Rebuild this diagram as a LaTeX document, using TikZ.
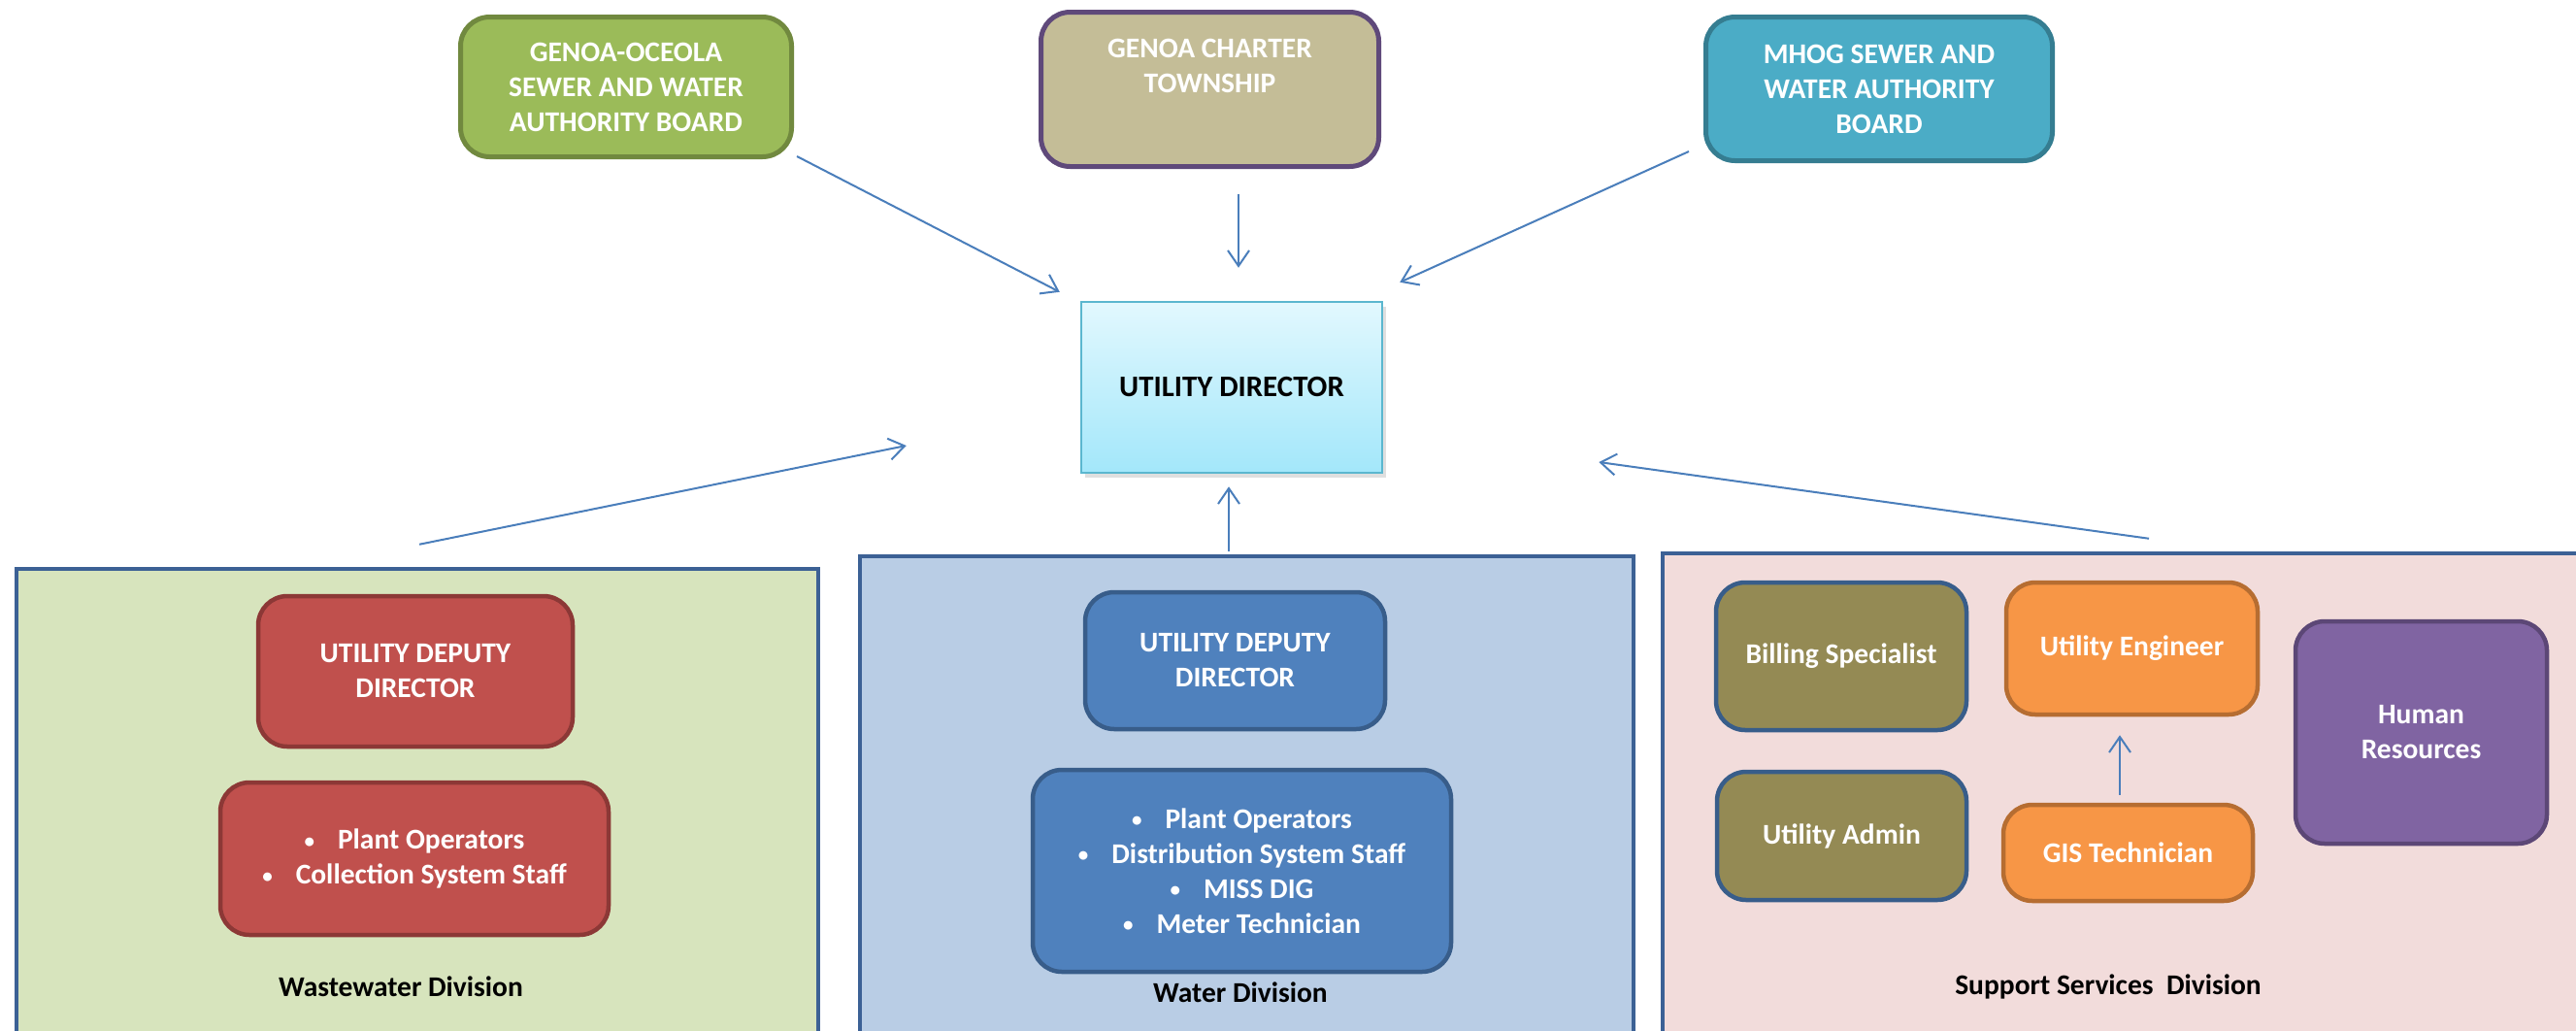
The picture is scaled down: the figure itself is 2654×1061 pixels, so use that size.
\documentclass[tikz,border=0pt]{standalone}
\usepackage{fontspec}
\setmainfont{Carlito}
\usetikzlibrary{arrows.meta,calc,shadows}
\definecolor{grfill}{HTML}{9BBB59}\definecolor{grline}{HTML}{71893F}
\definecolor{tnfill}{HTML}{C4BD97}\definecolor{tnline}{HTML}{5F497A}
\definecolor{mhfill}{HTML}{4BACC6}\definecolor{mhline}{HTML}{357D91}
\definecolor{dirtop}{HTML}{E2F8FE}\definecolor{dirbot}{HTML}{A3E7FA}\definecolor{dirline}{HTML}{5BB7CF}
\definecolor{arr}{HTML}{4A7EBB}
\definecolor{divline}{HTML}{3C6195}
\definecolor{wwfill}{HTML}{D7E4BD}\definecolor{wafill}{HTML}{B9CDE5}\definecolor{ssfill}{HTML}{F2DCDB}
\definecolor{rdfill}{HTML}{C0504D}\definecolor{rdline}{HTML}{8C3836}
\definecolor{blfill}{HTML}{4F81BD}\definecolor{blline}{HTML}{385D8A}
\definecolor{olfill}{HTML}{948A54}
\definecolor{orfill}{HTML}{F79646}\definecolor{orline}{HTML}{B66D31}
\definecolor{pufill}{HTML}{8064A2}\definecolor{puline}{HTML}{5C4776}
\newcommand{\bul}{\raisebox{1.5pt}{\fontsize{21}{21}\selectfont •}\hspace{24pt}}
\begin{document}
\begin{tikzpicture}[x=1pt,y=-1pt,
  wtxt/.style={text=white,font=\bfseries\fontsize{29.5}{36}\selectfont,align=center},
  topbox/.style={wtxt,draw,rounded corners=30pt,line width=5pt,inner sep=0pt},
  inbox/.style={wtxt,draw,rounded corners=30pt,line width=4.5pt,inner sep=0pt},
  divbox/.style={draw=divline,line width=4.5pt,inner sep=0pt},
  divlabel/.style={text=black,font=\bfseries\fontsize{29.5}{34}\selectfont,anchor=base},
  conn/.style={draw=arr,line width=2pt,-{Straight Barb[length=16pt,width=22pt,line width=2pt]}}]
\useasboundingbox (0,0) rectangle (2654,1061);
\fill[white] (0,0) rectangle (2654,1061);
\begin{scope}
\clip (0,0) rectangle (2654,1061);
% top boxes
\node[topbox,fill=grfill,draw=grline,minimum width=341pt,minimum height=144pt] (gos) at (645,89.5) {GENOA-OCEOLA\\SEWER AND WATER\\AUTHORITY BOARD};
\node[topbox,fill=tnfill,draw=tnline,minimum width=348pt,minimum height=159pt] (gct) at (1246.5,92) {};
\node[wtxt] (gcttext) at (1246.5,68) {GENOA CHARTER\\TOWNSHIP};
\node[topbox,fill=mhfill,draw=mhline,minimum width=357pt,minimum height=148pt] (mhog) at (1936,91.5) {MHOG SEWER AND\\WATER AUTHORITY\\BOARD};
% director
\node[draw=dirline,line width=2.5pt,top color=dirtop,bottom color=dirbot,minimum width=310pt,minimum height=176pt,
  font=\bfseries\fontsize{30.8}{36}\selectfont,
  drop shadow={shadow xshift=4pt,shadow yshift=-5pt,opacity=.25}] (dir) at (1269,399) {UTILITY DIRECTOR};
% divisions
\node[divbox,fill=wwfill,minimum width=826pt,minimum height=514pt] (ww) at (430,843) {};
\node[divbox,fill=wafill,minimum width=797pt,minimum height=527pt] (wa) at (1284.5,836.5) {};
\node[divbox,fill=ssfill,minimum width=987pt,minimum height=530pt] (ss) at (2206.5,835) {};
% wastewater
\node[inbox,fill=rdfill,draw=rdline,minimum width=324pt,minimum height=155pt] (wwdep) at (428,691.5) {UTILITY DEPUTY\\DIRECTOR};
\node[inbox,fill=rdfill,draw=rdline,minimum width=400pt,minimum height=157pt] (wwstaff) at (427,884.5) {\bul Plant Operators\\\bul Collection System Staff};
\node[divlabel] (wwlab) at (413,1026) {Wastewater Division};
% water
\node[inbox,fill=blfill,draw=blline,minimum width=309pt,minimum height=141pt] (wadep) at (1272.5,680.5) {UTILITY DEPUTY\\DIRECTOR};
\node[inbox,fill=blfill,draw=blline,minimum width=431pt,minimum height=208pt] (wastaff) at (1279.5,897) {\bul Plant Operators\\\bul Distribution System Staff\\\bul MISS DIG\\\bul Meter Technician};
\node[divlabel] (walab) at (1278,1032) {Water Division};
% support
\node[inbox,fill=olfill,draw=blline,minimum width=258pt,minimum height=152pt] (bill) at (1897,676) {Billing Specialist};
\node[inbox,fill=orfill,draw=orline,minimum width=259pt,minimum height=136pt] (eng) at (2196.5,668) {Utility Engineer};
\node[inbox,fill=olfill,draw=blline,minimum width=257pt,minimum height=132pt] (adm) at (1897.5,861) {Utility Admin};
\node[inbox,fill=orfill,draw=orline,minimum width=257pt,minimum height=99pt] (gis) at (2192.5,878.5) {GIS Technician};
\node[inbox,fill=pufill,draw=puline,minimum width=259pt,minimum height=229pt] (hr) at (2494.5,754.5) {Human\\Resources};
\node[divlabel] (sslab) at (2172,1024) {Support Services\ \ Division};
\end{scope}
% connectors
\coordinate (a1s) at ($(gos.south east)+(3,-3)$);
\coordinate (a1e) at ($(dir.north west)+(-21,-9)$);
\coordinate (a2s) at ($(gct.south)+(29.5,26)$);
\coordinate (a2e) at ($(dir.north)+(7,-34)$);
\coordinate (a3s) at ($(mhog.south west)+(-15,-12)$);
\coordinate (a3e) at ($(dir.north east)+(17,-19)$);
\coordinate (a4s) at ($(ww.north)+(2,-23)$);
\coordinate (a4e) at ($(dir.west)+(-179,60)$);
\coordinate (a5s) at ($(wa.north)+(-18.5,-3)$);
\coordinate (a5e) at ($(dir.south)+(-3,13)$);
\coordinate (a6s) at ($(ss.north)+(7.5,-13)$);
\coordinate (a6e) at ($(dir.east)+(222,77)$);
\coordinate (a7s) at ($(gis.north)+(-8.5,-8)$);
\coordinate (a7e) at ($(eng.south)+(-12.5,19)$);
\draw[conn] (a1s) -- (a1e);
\draw[conn] (a2s) -- (a2e);
\draw[conn] (a3s) -- (a3e);
\draw[conn] (a4s) -- (a4e);
\draw[conn] (a5s) -- (a5e);
\draw[conn] (a6s) -- (a6e);
\draw[conn,line width=1.6pt] (a7s) -- (a7e);
\end{tikzpicture}
\end{document}
